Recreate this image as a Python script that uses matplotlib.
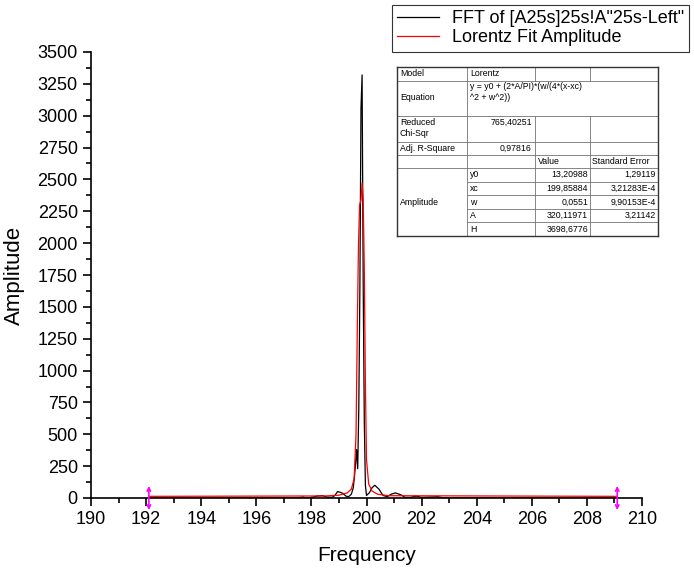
import matplotlib
matplotlib.use("Agg")
import matplotlib.pyplot as plt
from matplotlib.ticker import MultipleLocator
from matplotlib.lines import Line2D

plt.rcParams['font.family'] = ['Liberation Sans', 'DejaVu Sans']

# FFT spectrum
fft_freq = [192.1, 197.5, 197.7, 197.8, 198.0, 198.2, 198.4, 198.55, 198.75, 198.85,
            198.95, 199.05, 199.15, 199.25, 199.35, 199.45, 199.52, 199.56, 199.60,
            199.64, 199.68, 199.72, 199.76, 199.80, 199.84, 199.88, 199.92, 199.96,
            200.00, 200.10, 200.20, 200.30, 200.45, 200.60, 200.75, 200.90, 201.05,
            201.25, 201.40, 201.60, 201.80, 202.00, 202.60, 202.80, 209.1]
fft_amp = [0, 0, 8, 0, 5, 15, 18, 8, 5, 20,
           50, 45, 35, 15, 10, 30, 80, 160, 260,
           380, 230, 700, 1650, 3060, 3320, 1680, 600, 100,
           20, 40, 80, 100, 70, 20, 10, 30, 40,
           25, 5, 5, 15, 5, 10, 0, 0]

# Lorentz fit curve
fit_freq = [192.1, 198.5, 199.0, 199.3, 199.45, 199.55, 199.62, 199.67, 199.71, 199.75,
            199.80, 199.84, 199.88, 199.92, 199.96, 200.00, 200.08, 200.20, 200.40,
            200.80, 209.1]
fit_amp = [13, 16, 22, 40, 70, 150, 500, 1400, 2000, 2300,
           2340, 2470, 2340, 1800, 900, 300, 110, 55, 30,
           18, 13]

fit_rows = [("y0", "13,20988", "1,29119"),
            ("xc", "199,85884", "3,21283E-4"),
            ("w", "0,0551", "9,90153E-4"),
            ("A", "320,11971", "3,21142"),
            ("H", "3698,6776", "")]

W, H = 694, 568
fig = plt.figure(figsize=(W / 100, H / 100), dpi=100)
ax = fig.add_axes([91 / W, 1 - 498 / H, (642 - 91) / W, (498 - 52) / H])

ax.plot(fft_freq, fft_amp, color='black', lw=0.9)
ax.plot(fit_freq, fit_amp, color='red', lw=0.9)

ax.set_xlim(190, 210)
ax.set_ylim(0, 3500)
ax.xaxis.set_major_locator(MultipleLocator(2))
ax.xaxis.set_minor_locator(MultipleLocator(1))
ax.yaxis.set_major_locator(MultipleLocator(250))
ax.yaxis.set_minor_locator(MultipleLocator(125))
ax.tick_params(which='major', direction='out', length=6, width=1.2, labelsize=13)
ax.tick_params(which='minor', direction='out', length=3.5, width=1.2)
for s in ['top', 'right']:
    ax.spines[s].set_visible(False)
for s in ['left', 'bottom']:
    ax.spines[s].set_linewidth(1.2)
ax.set_xlabel("Frequency", fontsize=15, labelpad=13)
ax.set_ylabel("Amplitude", fontsize=16, labelpad=9)

# range markers
for xm in [192.1, 209.1]:
    ax.annotate('', xy=(xm, -0.027), xytext=(xm, 0.027),
                xycoords=ax.get_xaxis_transform(),
                arrowprops=dict(arrowstyle='<->', color='magenta', lw=1.2,
                                mutation_scale=6, shrinkA=0, shrinkB=0),
                annotation_clip=False)

# legend
handles = [Line2D([], [], color='black', lw=0.9), Line2D([], [], color='red', lw=0.9)]
leg = fig.legend(handles, ['FFT of [A25s]25s!A"25s-Left"', 'Lorentz Fit Amplitude'],
                 loc='upper left', bbox_to_anchor=(392 / W, 1 - 5 / H),
                 fontsize=13, frameon=True, fancybox=False, handlelength=2.3,
                 borderpad=0.3, labelspacing=0.1, handletextpad=0.7, borderaxespad=0)
leg.get_frame().set_edgecolor('black')
leg.get_frame().set_linewidth(0.8)


# fit result table drawn in figure pixels
def P(x, y):
    return x / W, 1 - y / H


def hline(x0, x1, y, lw=0.6, c='0.45'):
    fig.add_artist(Line2D([x0 / W, x1 / W], [1 - y / H, 1 - y / H], color=c, lw=lw))


def vline(x, y0, y1, lw=0.6, c='0.45'):
    fig.add_artist(Line2D([x / W, x / W], [1 - y0 / H, 1 - y1 / H], color=c, lw=lw))


L, C1, C2, C3, R = 397, 467, 535, 590, 658
rows_y = [67, 81, 116, 142, 155, 168, 181.6, 195.2, 208.8, 222.4, 236]
fig.patches.append(plt.Rectangle(P(L, 236), (R - L) / W, (236 - 67) / H,
                                 transform=fig.transFigure, facecolor='white',
                                 edgecolor='none', zorder=0))
for i, y in enumerate(rows_y):
    if 6 <= i <= 9:
        hline(C1, R, y)
    else:
        hline(L, R, y)
vline(C1, 67, 236)
vline(C2, 67, 81)
vline(C2, 116, 236)
vline(C3, 67, 81)
vline(C3, 116, 236)
# outer border
hline(L, R, 67, lw=1.0, c='0.2')
hline(L, R, 236, lw=1.0, c='0.2')
vline(L, 67, 236, lw=1.0, c='0.2')
vline(R, 67, 236, lw=1.0, c='0.2')

fs = 6.3
fig.text(*P(400, 74), "Model", fontsize=fs, va='center')
fig.text(*P(470, 74), "Lorentz", fontsize=fs, va='center')
fig.text(*P(400, 98), "Equation", fontsize=fs, va='center')
fig.text(*P(470, 92), "y = y0 + (2*A/PI)*(w/(4*(x-xc)\n^2 + w^2))", fontsize=fs,
         va='center', linespacing=1.3)
fig.text(*P(400, 128), "Reduced\nChi-Sqr", fontsize=fs, va='center', linespacing=1.3)
fig.text(*P(532, 122), "765,40251", fontsize=fs, va='center', ha='right')
fig.text(*P(400, 148.5), "Adj. R-Square", fontsize=fs, va='center')
fig.text(*P(532, 148.5), "0,97816", fontsize=fs, va='center', ha='right')
fig.text(*P(538, 161.5), "Value", fontsize=fs, va='center')
fig.text(*P(592, 161.5), "Standard Error", fontsize=fs, va='center')
fig.text(*P(400, 202), "Amplitude", fontsize=fs, va='center')
for i, (name, val, err) in enumerate(fit_rows):
    yc = (rows_y[5 + i] + rows_y[6 + i]) / 2
    fig.text(*P(470, yc), name, fontsize=fs, va='center')
    fig.text(*P(588, yc), val, fontsize=fs, va='center', ha='right')
    fig.text(*P(656, yc), err, fontsize=fs, va='center', ha='right')

fig.savefig("out.png", dpi=100)
